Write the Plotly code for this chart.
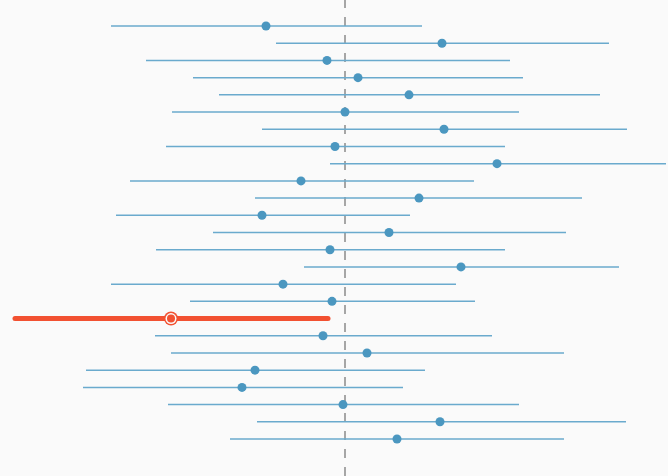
import plotly.graph_objects as go

rows = list(range(1, 26))
estimate = [-0.395, 0.485, -0.09, 0.065, 0.32, 0.0, 0.495, -0.05, 0.76, -0.22,
            0.37, -0.415, 0.22, -0.075, 0.58, -0.31, -0.065, -0.87, -0.11, 0.11,
            -0.45, -0.515, -0.01, 0.475, 0.26]
lower = [-1.17, -0.345, -0.995, -0.76, -0.63, -0.865, -0.415, -0.895, -0.075, -1.075,
         -0.45, -1.145, -0.66, -0.945, -0.205, -1.17, -0.775, -1.65, -0.95, -0.87,
         -1.295, -1.31, -0.885, -0.44, -0.575]
upper = [0.385, 1.32, 0.825, 0.89, 1.275, 0.87, 1.41, 0.80, 1.605, 0.645,
         1.185, 0.325, 1.105, 0.80, 1.37, 0.555, 0.65, -0.085, 0.735, 1.095,
         0.40, 0.29, 0.87, 1.405, 1.095]
highlight = 18
reference_value = 0.0

BLUE_LINE = "#6aaacd"
BLUE_DOT = "#4b97c0"
RED = "#f25131"
BG = "#fafafa"

fig = go.Figure()

lx, ly = [], []
mx, my = [], []
for r, e, lo, hi in zip(rows, estimate, lower, upper):
    if r == highlight:
        continue
    lx += [lo, hi, None]
    ly += [r, r, None]
    mx.append(e)
    my.append(r)

fig.add_trace(go.Scatter(x=lx, y=ly, mode="lines",
                         line=dict(color=BLUE_LINE, width=1.5),
                         hoverinfo="skip", showlegend=False))
fig.add_trace(go.Scatter(x=mx, y=my, mode="markers",
                         marker=dict(color=BLUE_DOT, size=9),
                         showlegend=False))

hi_i = rows.index(highlight)
hlo, hhi, hest = lower[hi_i], upper[hi_i], estimate[hi_i]
fig.add_trace(go.Scatter(x=[hlo, hhi], y=[highlight, highlight], mode="lines+markers",
                         line=dict(color=RED, width=5),
                         marker=dict(color=RED, size=5),
                         hoverinfo="skip", showlegend=False))
for size, col in [(14, RED), (11, BG), (8, RED)]:
    fig.add_trace(go.Scatter(x=[hest], y=[highlight], mode="markers",
                             marker=dict(color=col, size=size, line=dict(width=0)),
                             hoverinfo="skip", showlegend=False))

fig.add_shape(type="line", x0=reference_value, x1=reference_value, y0=0, y1=1,
              xref="x", yref="paper",
              line=dict(color="#8a8a8a", width=1.5, dash="dash"), layer="below")

fig.update_layout(
    width=668, height=476,
    margin=dict(l=0, r=0, t=0, b=0),
    paper_bgcolor=BG, plot_bgcolor=BG,
    xaxis=dict(range=[-1.725, 1.615], visible=False, showgrid=False, zeroline=False),
    yaxis=dict(range=[27.15, -0.511], visible=False, showgrid=False, zeroline=False),
)

fig.write_html("out.html", config={"displayModeBar": False},
               post_script="document.body.style.margin='0';document.body.style.background='#fafafa';")
